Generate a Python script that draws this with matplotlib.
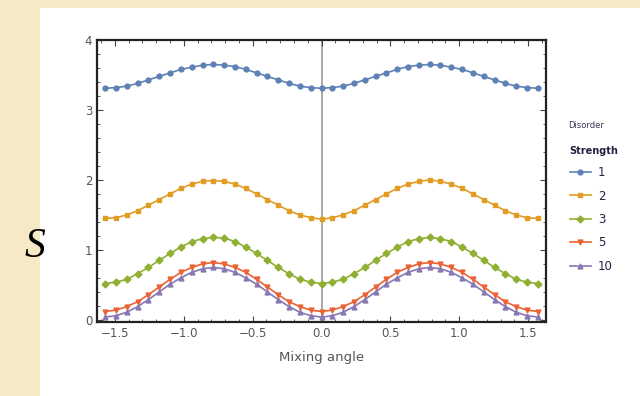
import numpy as np
import matplotlib.pyplot as plt
from matplotlib.patches import Rectangle
from matplotlib.ticker import MultipleLocator

# mixing angle grid, -pi/2 .. pi/2
angles = np.linspace(-np.pi / 2, np.pi / 2, 41)

strengths = ["1", "2", "3", "5", "10"]

s_1 = [3.31, 3.32, 3.34, 3.38, 3.43, 3.48, 3.53, 3.58, 3.61, 3.64, 3.65,
       3.64, 3.62, 3.58, 3.53, 3.48, 3.43, 3.38, 3.34, 3.32, 3.31,
       3.32, 3.34, 3.38, 3.43, 3.48, 3.53, 3.58, 3.62, 3.64, 3.65,
       3.64, 3.61, 3.58, 3.53, 3.48, 3.43, 3.38, 3.34, 3.32, 3.31]
s_2 = [1.45, 1.46, 1.50, 1.56, 1.64, 1.72, 1.80, 1.88, 1.94, 1.98, 1.99,
       1.98, 1.94, 1.88, 1.80, 1.72, 1.64, 1.56, 1.50, 1.46, 1.44,
       1.46, 1.50, 1.56, 1.64, 1.72, 1.80, 1.88, 1.94, 1.98, 2.00,
       1.98, 1.94, 1.88, 1.80, 1.72, 1.64, 1.56, 1.50, 1.46, 1.45]
s_3 = [0.52, 0.54, 0.58, 0.66, 0.75, 0.85, 0.95, 1.04, 1.12, 1.16, 1.18,
       1.17, 1.12, 1.04, 0.95, 0.85, 0.75, 0.66, 0.58, 0.54, 0.52,
       0.54, 0.58, 0.66, 0.75, 0.85, 0.95, 1.04, 1.12, 1.16, 1.18,
       1.16, 1.12, 1.04, 0.95, 0.85, 0.75, 0.66, 0.58, 0.54, 0.52]
s_5 = [0.12, 0.14, 0.19, 0.26, 0.36, 0.47, 0.58, 0.68, 0.75, 0.80, 0.82,
       0.80, 0.75, 0.68, 0.58, 0.47, 0.36, 0.26, 0.19, 0.14, 0.12,
       0.14, 0.19, 0.26, 0.36, 0.47, 0.58, 0.68, 0.75, 0.80, 0.82,
       0.80, 0.75, 0.68, 0.58, 0.47, 0.36, 0.26, 0.19, 0.14, 0.12]
s_10 = [0.04, 0.06, 0.11, 0.19, 0.29, 0.40, 0.51, 0.60, 0.68, 0.73, 0.75,
        0.73, 0.68, 0.60, 0.51, 0.40, 0.29, 0.19, 0.11, 0.06, 0.04,
        0.06, 0.11, 0.19, 0.29, 0.40, 0.51, 0.60, 0.68, 0.73, 0.75,
        0.73, 0.68, 0.60, 0.51, 0.40, 0.29, 0.19, 0.11, 0.06, 0.04]

series = [s_1, s_2, s_3, s_5, s_10]
colors = ["#5e81b5", "#e19c24", "#8fb032", "#eb6235", "#8778b3"]
markers = ["o", "s", "D", "v", "^"]

fig = plt.figure(figsize=(6.4, 3.96), dpi=100)
fig.patch.set_facecolor("#f6eac6")
fig.patches.append(Rectangle((40 / 640, 0), 1, 388 / 396, transform=fig.transFigure,
                             facecolor="white", edgecolor="none", zorder=-10))

ax = fig.add_axes([97 / 640, 74 / 396, 449 / 640, 282 / 396])
ax.set_zorder(1)
ax.set_facecolor("white")

handles = []
for s, c, m, lab in zip(series, colors, markers, strengths):
    h, = ax.plot(angles, s, color=c, marker=m, markersize=3.5, lw=1.2, label=lab)
    handles.append(h)

ax.axvline(0, color="#999999", lw=1.2, zorder=0)
ax.set_xlim(-1.63, 1.63)
ax.set_ylim(-0.03, 4.0)
ax.xaxis.set_major_locator(MultipleLocator(0.5))
ax.xaxis.set_minor_locator(MultipleLocator(0.1))
ax.yaxis.set_major_locator(MultipleLocator(1))
ax.yaxis.set_minor_locator(MultipleLocator(0.2))
ax.tick_params(which="both", direction="in", top=True, right=True,
               colors="#444444", labelcolor="#555555", labelsize=8.5)
ax.tick_params(which="major", length=4)
ax.tick_params(which="minor", length=2)
ax.set_xticks([-1.5, -1.0, -0.5, 0.0, 0.5, 1.0, 1.5])
ax.set_xticklabels(["\u22121.5", "\u22121.0", "\u22120.5", "0.0", "0.5", "1.0", "1.5"])
for sp in ax.spines.values():
    sp.set_linewidth(1.6)
    sp.set_color("#222222")

ax.set_xlabel("Mixing angle", color="#555555", fontsize=9.5, labelpad=8)
fig.text(35 / 640, 1 - 247 / 396, "S", fontsize=30, style="italic",
         family="Liberation Serif", ha="center", va="center")

fig.text(568 / 640, 1 - 125 / 396, "Disorder", fontsize=6, color="#333355",
         va="center", ha="left")
leg = fig.legend(handles=handles, title="Strength", loc="upper left",
                 bbox_to_anchor=(565 / 640, 1 - 141 / 396), frameon=False,
                 fontsize=8.5, title_fontsize=7, handlelength=1.8,
                 labelspacing=0.88, borderaxespad=0, handletextpad=0.6)
leg.get_title().set_color("#222244")
leg.get_title().set_fontweight("bold")
for t in leg.get_texts():
    t.set_color("#222244")
leg._legend_box.align = "left"

fig.savefig("out.png", dpi=100)
